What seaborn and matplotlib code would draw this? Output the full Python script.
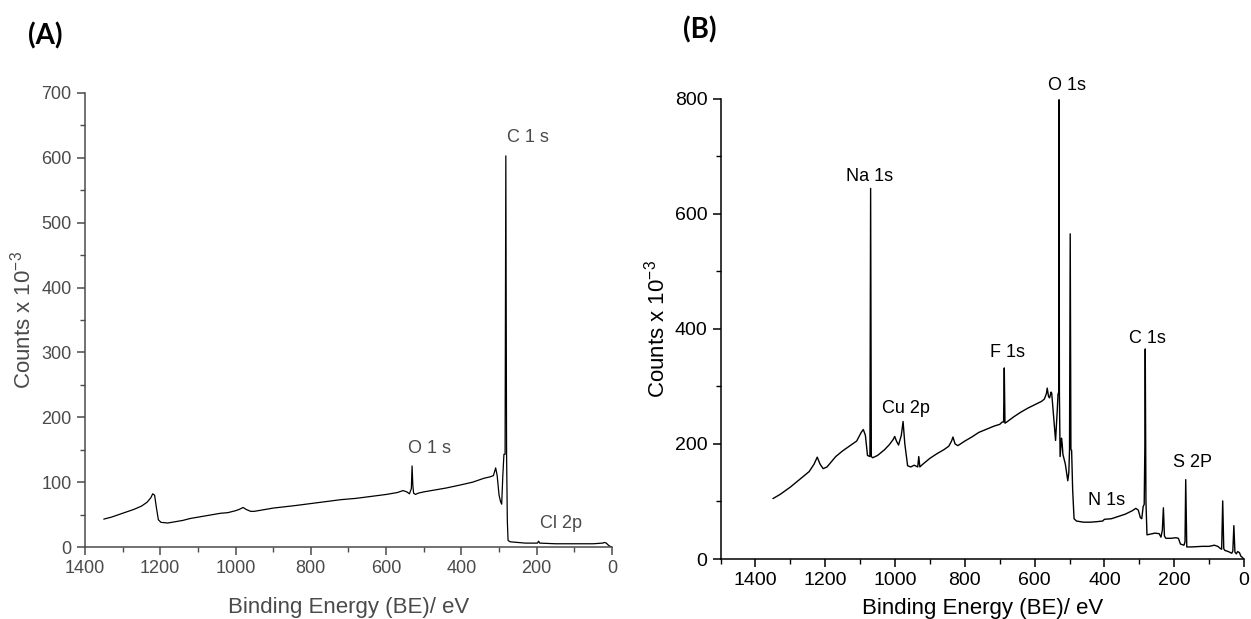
import matplotlib
matplotlib.use("Agg")
import matplotlib.pyplot as plt
from matplotlib.ticker import MultipleLocator
import seaborn as sns
import pandas as pd

# ---- Survey spectrum (A) ----
be_a = [1350, 1330, 1310, 1290, 1270, 1250, 1235, 1225, 1220, 1215, 1210, 1205, 1198,
        1180, 1160, 1140, 1120, 1100, 1080, 1060, 1040, 1020, 1000, 990, 980, 972, 960,
        950, 930, 900, 870, 840, 800, 760, 720, 680, 640, 600, 570, 555, 545, 538,
        533, 531, 529, 527, 522, 515, 500, 470, 440, 400, 370, 340, 325, 315, 309,
        305, 300, 296, 293, 290, 287, 284, 282, 280, 278, 276, 270, 250, 230, 210,
        198, 195, 192, 150, 100, 50, 25, 20, 15, 10, 5, 1]
counts_a = [43, 46, 50, 54, 58, 63, 69, 76, 82, 80, 60, 42, 38,
            37, 39, 41, 44, 46, 48, 50, 52, 53, 56, 58, 61, 58, 55,
            55, 57, 60, 62, 64, 67, 70, 73, 75, 78, 81, 84, 87, 85, 82,
            90, 125, 95, 83, 81, 83, 85, 88, 91, 96, 100, 106, 108, 110, 122,
            110, 80, 70, 66, 110, 143, 143, 603, 143, 40, 10, 8, 7, 6, 6,
            6, 9, 6, 5, 5, 5, 6, 7, 6, 3, 1, 0]
labels_a = ["C 1 s", "O 1 s", "Cl 2p"]
label_be_a = [224, 484, 135]
label_y_a = [631, 152, 36]

# ---- Survey spectrum (B) ----
be_b = [1350, 1330, 1300, 1270, 1246, 1232, 1223, 1215, 1206, 1195, 1170, 1150, 1131,
        1110, 1097, 1091, 1085, 1079, 1072, 1070, 1068, 1064, 1050, 1030, 1016, 1005,
        1001, 996, 990, 982, 977, 972, 964, 955, 945, 935, 932, 929, 920, 900, 880,
        860, 846, 838, 834, 828, 820, 800, 780, 760, 740, 716, 700, 693, 689, 687,
        685, 680, 660, 640, 620, 600, 580, 572, 566, 564, 560, 557, 553, 551, 546,
        540, 535, 533, 531, 530, 529, 527, 523, 521, 519, 512, 505, 502, 500, 498,
        496, 494, 491, 487, 480, 460, 440, 420, 405, 400, 380, 360, 340, 320, 310,
        303, 297, 293, 289, 286, 284, 283, 281, 278, 270, 255, 243, 238, 234, 231,
        228, 224, 210, 195, 188, 182, 172, 169, 167, 164, 150, 120, 100, 85, 75,
        67, 64, 61, 58, 55, 45, 35, 32, 29, 26, 22, 18, 13, 9, 5, 2]
counts_b = [105, 112, 125, 140, 152, 165, 177, 165, 157, 160, 178, 188, 196,
            205, 220, 225, 215, 180, 178, 644, 178, 176, 180, 190, 199, 208,
            213, 205, 198, 215, 239, 200, 162, 160, 163, 160, 178, 160, 165, 175, 183,
            190, 196, 205, 212, 200, 197, 205, 212, 220, 225, 231, 234, 238, 238, 332,
            236, 238, 247, 255, 262, 268, 274, 278, 288, 297, 282, 280, 290, 288, 250,
            206, 260, 286, 290, 798, 290, 178, 210, 200, 182, 165, 136, 150, 189, 565,
            190, 189, 120, 70, 66, 64, 64, 65, 66, 69, 70, 74, 78, 84, 88,
            85, 72, 70, 91, 95, 200, 365, 100, 42, 43, 45, 44, 38, 50, 89,
            40, 36, 36, 37, 36, 26, 24, 30, 138, 21, 21, 22, 22, 24, 22,
            18, 17, 101, 18, 15, 13, 10, 14, 58, 12, 9, 13, 11, 5, 3, 1]
labels_b = ["Na 1s", "Cu 2p", "F 1s", "O 1s", "C 1s", "N 1s", "S 2P"]
label_be_b = [1073, 970, 678, 508, 278, 395, 148]
label_y_b = [664, 261, 358, 823, 384, 101, 168]

df_a = pd.DataFrame({"be": be_a, "counts": counts_a})
df_b = pd.DataFrame({"be": be_b, "counts": counts_b})

sns.set_theme(style="ticks")
plt.rcParams["font.family"] = ["Liberation Sans", "DejaVu Sans"]
plt.rcParams["mathtext.fontset"] = "custom"
plt.rcParams["mathtext.rm"] = "Liberation Sans"

fig = plt.figure(figsize=(12.51, 6.19), dpi=100)
fig.patch.set_facecolor("white")

ylabel = r"Counts x 10$^{\mathregular{-3}}$"
xlabel = "Binding Energy (BE)/ eV"


def style_axes(ax, color, tick_size):
    ax.set_facecolor("white")
    for side in ("top", "right"):
        ax.spines[side].set_visible(False)
    for side in ("left", "bottom"):
        ax.spines[side].set_color(color)
        ax.spines[side].set_linewidth(1.1)
    ax.tick_params(which="major", direction="out", length=6, width=1.1,
                   color=color, labelcolor=color, labelsize=tick_size)
    ax.tick_params(which="minor", direction="out", length=3.5, width=1.0, color=color)
    ax.grid(False)


# Panel A
ax_a = fig.add_axes([0.0679, 0.1163, 0.4213, 0.7335])
sns.lineplot(data=df_a, x="be", y="counts", ax=ax_a, sort=False, estimator=None,
             color="black", linewidth=0.9)
ax_a.set_xlim(1400, 0)
ax_a.set_ylim(0, 700)
ax_a.xaxis.set_major_locator(MultipleLocator(200))
ax_a.xaxis.set_minor_locator(MultipleLocator(100))
ax_a.yaxis.set_major_locator(MultipleLocator(100))
ax_a.yaxis.set_minor_locator(MultipleLocator(50))
grey = "#4a4a4a"
style_axes(ax_a, grey, 13)
ax_a.set_xlabel(xlabel, fontsize=16, color=grey, labelpad=14)
ax_a.set_ylabel(ylabel, fontsize=16, color=grey, labelpad=4)
for t, xv, yv in zip(labels_a, label_be_a, label_y_a):
    ax_a.text(xv, yv, t, ha="center", va="center", fontsize=13, color=grey)
fig.text(0.036, 0.942, "(A)", fontsize=20, fontweight="bold", family="Lato",
         ha="center", va="center", color="black")

# Panel B
ax_b = fig.add_axes([0.576, 0.0969, 0.4184, 0.7438])
sns.lineplot(data=df_b, x="be", y="counts", ax=ax_b, sort=False, estimator=None,
             color="black", linewidth=1.0)
ax_b.set_xlim(1500, 0)
ax_b.set_ylim(0, 800)
ax_b.set_xticks([1400, 1200, 1000, 800, 600, 400, 200, 0])
ax_b.xaxis.set_minor_locator(MultipleLocator(100))
ax_b.yaxis.set_major_locator(MultipleLocator(200))
ax_b.yaxis.set_minor_locator(MultipleLocator(100))
style_axes(ax_b, "black", 14)
ax_b.set_xlabel(xlabel, fontsize=16, color="black", labelpad=6)
ax_b.set_ylabel(ylabel, fontsize=16, color="black", labelpad=4)
for t, xv, yv in zip(labels_b, label_be_b, label_y_b):
    ax_b.text(xv, yv, t, ha="center", va="center", fontsize=13, color="black")
fig.text(0.5595, 0.951, "(B)", fontsize=20, fontweight="bold", family="Lato",
         ha="center", va="center", color="black")

fig.savefig("out.png", dpi=100, facecolor="white")
